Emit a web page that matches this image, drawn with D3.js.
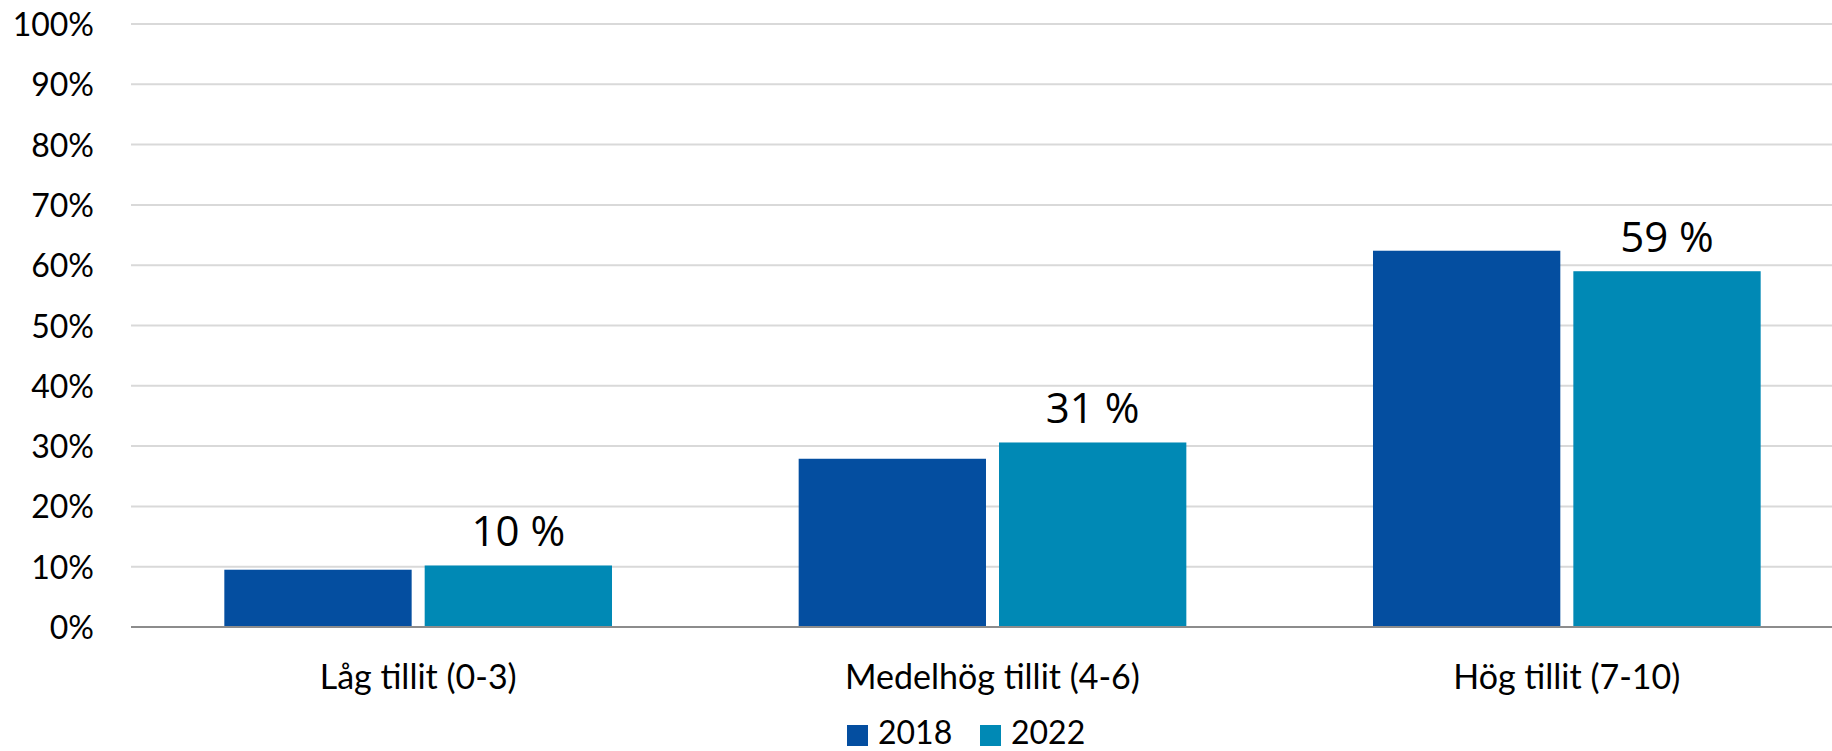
<!DOCTYPE html>
<html><head><meta charset="utf-8">
<script src="https://cdn.jsdelivr.net/npm/d3@7"></script>
<style>
html,body{margin:0;padding:0;background:#fff;}
svg{display:block;}
</style></head>
<body>
<svg id="chart" width="1832" height="751"></svg>
<script>
const categories = ["Låg tillit (0-3)", "Medelhög tillit (4-6)", "Hög tillit (7-10)"];
const seriesNames = ["2018", "2022"];
const values2018 = [0.095, 0.279, 0.624];
const values2022 = [0.102, 0.306, 0.590];
const dataLabels2022 = ["10 %", "31 %", "59 %"];
const yTicks = [0, 0.1, 0.2, 0.3, 0.4, 0.5, 0.6, 0.7, 0.8, 0.9, 1.0];
const colors = ["#044EA0", "#0089B5"];

(function () {
const svg = d3.select("#chart");
const W = 1832;
const plotLeft = 131, plotRight = 1854, plotTop = 24, plotBottom = 627;

const y = d3.scaleLinear().domain([0, 1]).range([plotBottom, plotTop]);
const x0 = d3.scaleBand().domain(categories).range([plotLeft, plotRight]).paddingInner(0.325).paddingOuter(0.1625);
const x1 = d3.scaleBand().domain(seriesNames).range([0, x0.bandwidth()]).paddingInner(0.065);
const color = d3.scaleOrdinal().domain(seriesNames).range(colors);

const axisFont = "Lato, 'Open Sans', sans-serif";

const grid = svg.append("g").attr("class", "grid");
grid.selectAll("line").data(yTicks.filter(d => d > 0)).join("line")
  .attr("x1", plotLeft).attr("x2", W)
  .attr("y1", d => y(d)).attr("y2", d => y(d))
  .attr("stroke", "#d9d9d9").attr("stroke-width", 2);

const yAxis = d3.axisLeft(y).tickValues(yTicks).tickFormat(d3.format(".0%")).tickSize(0).tickPadding(0);
const yg = svg.append("g").attr("transform", `translate(${plotLeft - 37},0)`).call(yAxis);
yg.select(".domain").remove();
yg.selectAll("text").attr("font-family", axisFont).attr("font-size", 32).attr("fill", "#000").attr("dy", "0.36em");

const data = categories.map((c, i) => ({cat: c, vals: [
  {s: seriesNames[0], v: values2018[i]},
  {s: seriesNames[1], v: values2022[i], label: dataLabels2022[i]}
]}));

const groups = svg.append("g").selectAll("g").data(data).join("g")
  .attr("transform", d => `translate(${x0(d.cat)},0)`);
groups.selectAll("rect").data(d => d.vals).join("rect")
  .attr("x", d => x1(d.s)).attr("width", x1.bandwidth())
  .attr("y", d => y(d.v)).attr("height", d => y(0) - y(d.v))
  .attr("fill", d => color(d.s));

groups.selectAll("text.lbl").data(d => d.vals.filter(v => v.label)).join("text")
  .attr("class", "lbl")
  .attr("x", d => x1(d.s) + x1.bandwidth() / 2)
  .attr("y", d => y(d.v) - 19)
  .attr("text-anchor", "middle")
  .attr("font-family", "'Open Sans', sans-serif").attr("font-size", 42).attr("fill", "#000")
  .text(d => d.label);

svg.append("line").attr("x1", plotLeft).attr("x2", W).attr("y1", y(0)).attr("y2", y(0))
  .attr("stroke", "#8c8c8c").attr("stroke-width", 2);

const xAxis = d3.axisBottom(x0).tickSize(0).tickPadding(0);
const xg = svg.append("g").attr("transform", `translate(0,${y(0)})`).call(xAxis);
xg.select(".domain").remove();
xg.selectAll("text").attr("font-family", axisFont).attr("font-size", 34).attr("fill", "#000")
  .attr("dy", 0).attr("y", 62);

const legendItems = [{s: "2018", x: 847}, {s: "2022", x: 980}];
const lg = svg.append("g");
legendItems.forEach(it => {
  lg.append("rect").attr("x", it.x).attr("y", 725).attr("width", 21).attr("height", 21).attr("fill", color(it.s));
  lg.append("text").attr("x", it.x + 31).attr("y", 744).attr("font-family", axisFont).attr("font-size", 32)
    .attr("fill", "#000").text(it.s);
});
})();
</script>
</body></html>
